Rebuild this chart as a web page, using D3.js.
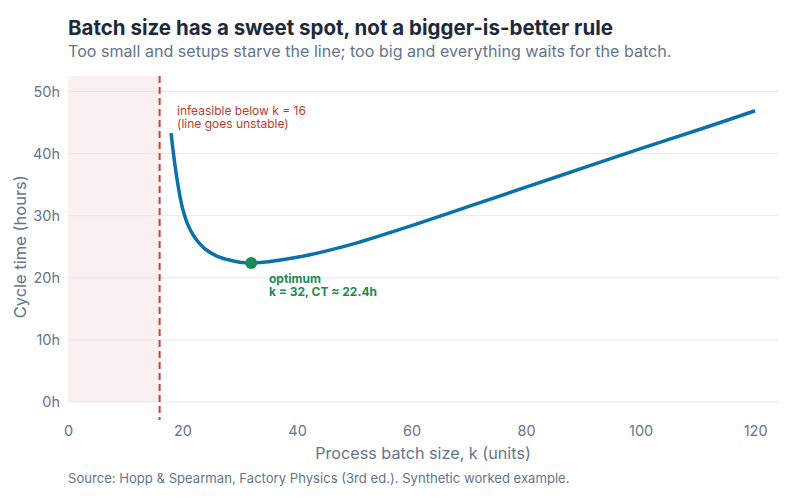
<!DOCTYPE html>
<html>
<head>
<meta charset="utf-8">
<script src="https://cdn.jsdelivr.net/npm/d3@7"></script>
<style>
  body { margin: 0; background: #fff; }
  svg { font-family: Inter, "Noto Sans", sans-serif; }
</style>
</head>
<body>
<div id="chart"></div>
<script>
// Batch size vs cycle time
var batchSizes = [18, 18.5, 19, 19.5, 20, 21, 22, 23, 24, 26, 28, 30, 32, 35, 40, 45, 50, 60, 70, 80, 90, 100, 110, 120];
var cycleHours = [43.3, 39.4, 36.1, 33.4, 31.2, 28.4, 26.7, 25.5, 24.6, 23.5, 22.9, 22.5, 22.4, 22.6, 23.3, 24.3, 25.5, 28.4, 31.5, 34.6, 37.7, 40.8, 43.8, 46.9];
var xTicks = [0, 20, 40, 60, 80, 100, 120];
var yTicks = [0, 10, 20, 30, 40, 50];
var infeasibleK = 16;
var optimum = { k: 32, ct: 22.4 };

var width = 800;
var height = 500;

// plot box (note: "top" is taken by window.top)
var plotLeft = 68, plotRight = 778, plotTop = 76, plotBottom = 420;

var svg = d3.select("#chart")
  .append("svg")
  .attr("width", width)
  .attr("height", height);

var xScale = d3.scaleLinear().domain([0, 124]).range([plotLeft, plotRight]);
var yScale = d3.scaleLinear().domain([-2.9, 52.5]).range([plotBottom, plotTop]);

var slate = "#64748b";

// titles
svg.append("text")
  .attr("x", 68).attr("y", 35)
  .attr("font-size", 20.5).attr("font-weight", 700)
  .attr("fill", "#1e293b")
  .text("Batch size has a sweet spot, not a bigger-is-better rule");

svg.append("text")
  .attr("x", 68).attr("y", 57)
  .attr("font-size", 16.1)
  .attr("fill", slate)
  .text("Too small and setups starve the line; too big and everything waits for the batch.");

// infeasible zone
svg.append("rect")
  .attr("x", xScale(0))
  .attr("y", plotTop)
  .attr("width", xScale(infeasibleK) - xScale(0))
  .attr("height", yScale(0) - plotTop)
  .attr("fill", "#faf0f0");

// gridlines
svg.append("g")
  .selectAll("line")
  .data(yTicks)
  .enter()
  .append("line")
  .attr("x1", plotLeft).attr("x2", plotRight)
  .attr("y1", function(d) { return yScale(d); })
  .attr("y2", function(d) { return yScale(d); })
  .attr("stroke", "#e2e8f0")
  .attr("stroke-width", 1);

// axes (labels only, no domain or ticks)
var yAxis = d3.axisLeft(yScale).tickValues(yTicks).tickSize(0).tickPadding(8)
  .tickFormat(function(d) { return d + "h"; });
var gy = svg.append("g")
  .attr("transform", "translate(" + plotLeft + ",0)")
  .call(yAxis);

var xAxis = d3.axisBottom(xScale).tickValues(xTicks).tickSize(0).tickPadding(6);
var gx = svg.append("g")
  .attr("transform", "translate(0," + plotBottom + ")")
  .call(xAxis);

[gx, gy].forEach(function(g) {
  g.select(".domain").remove();
  g.selectAll("text")
    .attr("font-family", "Inter, sans-serif")
    .attr("font-size", 14.5)
    .attr("fill", slate);
});

// axis titles
svg.append("text")
  .attr("x", xScale(62)).attr("y", 459)
  .attr("text-anchor", "middle")
  .attr("font-size", 16.2)
  .attr("fill", slate)
  .text("Process batch size, k (units)");

svg.append("text")
  .attr("transform", "translate(26," + yScale(25) + ")rotate(-90)")
  .attr("text-anchor", "middle")
  .attr("font-size", 16.5)
  .attr("fill", slate)
  .text("Cycle time (hours)");

// infeasible boundary
svg.append("line")
  .attr("x1", xScale(infeasibleK)).attr("x2", xScale(infeasibleK))
  .attr("y1", plotTop).attr("y2", plotBottom)
  .attr("stroke", "#d63a30")
  .attr("stroke-width", 2)
  .attr("stroke-dasharray", "7,4");

var redNote = svg.append("text")
  .attr("font-size", 12)
  .attr("fill", "#c0392b");
redNote.append("tspan").attr("x", 177).attr("y", 115).text("infeasible below k = 16");
redNote.append("tspan").attr("x", 177).attr("y", 128).text("(line goes unstable)");

// the curve
var pts = batchSizes.map(function(k, i) { return [k, cycleHours[i]]; });
var line = d3.line()
  .x(function(d) { return xScale(d[0]); })
  .y(function(d) { return yScale(d[1]); })
  .curve(d3.curveCatmullRom.alpha(0.5));

svg.append("path")
  .datum(pts)
  .attr("d", line)
  .attr("fill", "none")
  .attr("stroke", "#0a72a9")
  .attr("stroke-width", 3.5);

// optimum marker
svg.append("circle")
  .attr("cx", xScale(optimum.k))
  .attr("cy", yScale(optimum.ct))
  .attr("r", 6)
  .attr("fill", "#1b8a55");

var greenNote = svg.append("text")
  .attr("font-size", 12)
  .attr("font-weight", 700)
  .attr("fill", "#1b8a55");
greenNote.append("tspan").attr("x", 269).attr("y", 283).text("optimum");
greenNote.append("tspan").attr("x", 269).attr("y", 296).text("k = 32, CT \u2248 22.4h");

// source
svg.append("text")
  .attr("x", 68).attr("y", 483)
  .attr("font-size", 13.1)
  .attr("fill", slate)
  .text("Source: Hopp & Spearman, Factory Physics (3rd ed.). Synthetic worked example.");
</script>
</body>
</html>
